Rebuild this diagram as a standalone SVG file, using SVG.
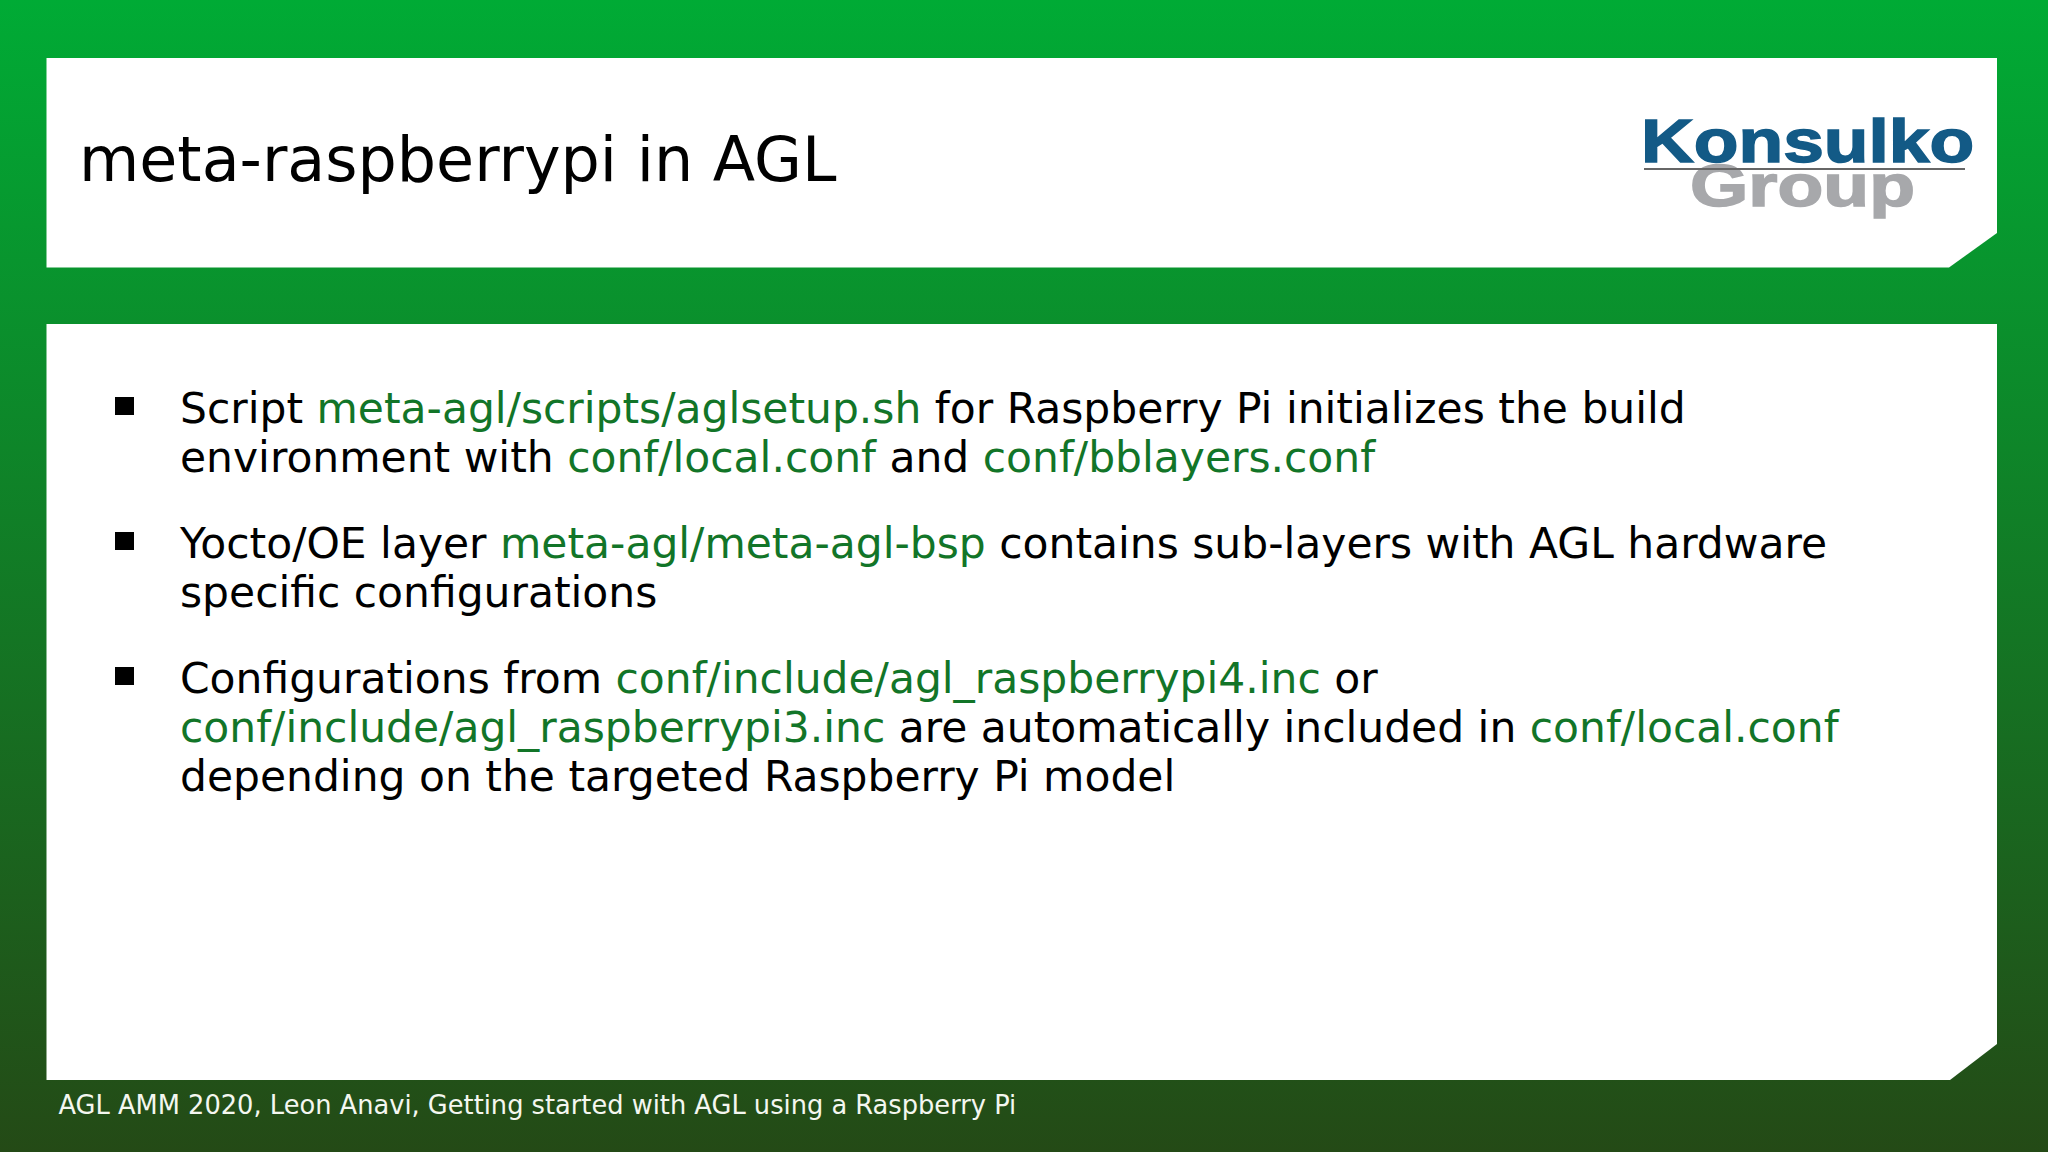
<svg xmlns="http://www.w3.org/2000/svg" width="2048" height="1152" viewBox="0 0 2048 1152">
<defs><linearGradient id="bg" x1="0" y1="0" x2="0" y2="1"><stop offset="0" stop-color="#00ab35"/><stop offset="1" stop-color="#244a16"/></linearGradient></defs>
<style>text{font-family:"DejaVu Sans",sans-serif}.b{font-size:42.43px;fill:#000}.g{fill:#127528}.l{font-family:"Liberation Sans",sans-serif;font-weight:bold;font-size:62px;stroke-width:1.5}</style>
<rect width="2048" height="1152" fill="url(#bg)"/>
<path d="M46.5 58H1997V233L1949 267.500H46.5Z" fill="#fff"/>
<path d="M46.5 324H1997V1044L1950 1080H46.500Z" fill="#fff"/>
<text x="79" y="180.500" font-size="61.9" fill="#000">meta-raspberrypi in AGL</text>
<g id="logo">
<text class="l" style="font-size:60px" transform="translate(1690 205.500) scale(1.25 1)" fill="#a7a8ab" stroke="#a7a8ab">Group</text>
<text class="l" transform="translate(1641 162) scale(1.18 1)" fill="#135a86" stroke="#135a86">Konsulko</text>
<rect x="1644" y="168" width="321" height="2" fill="#666"/>
</g>
<rect x="115" y="397" width="19" height="18"/><rect x="115" y="532" width="19" height="18"/><rect x="115" y="667" width="19" height="18"/>
<text class="b" x="180" y="422.500">Script <tspan class="g">meta-agl/scripts/aglsetup.sh</tspan> for Raspberry Pi initializes the build</text>
<text class="b" x="180" y="471.500">environment with <tspan class="g">conf/local.conf</tspan> and <tspan class="g">conf/bblayers.conf</tspan></text>
<text class="b" x="180" y="557.500">Yocto/OE layer <tspan class="g">meta-agl/meta-agl-bsp</tspan> contains sub-layers with AGL hardware</text>
<text class="b" x="180" y="606.500">specific configurations</text>
<text class="b" x="180" y="692.500">Configurations from <tspan class="g">conf/include/agl_raspberrypi4.inc</tspan> or</text>
<text class="b" x="180" y="741.500"><tspan class="g">conf/include/agl_raspberrypi3.inc</tspan> are automatically included in <tspan class="g">conf/local.conf</tspan></text>
<text class="b" x="180" y="790.500">depending on the targeted Raspberry Pi model</text>
<text x="58.500" y="1114" font-size="25.7" fill="#f4f7f0">AGL AMM 2020, Leon Anavi, Getting started with AGL using a Raspberry Pi</text>
</svg>
